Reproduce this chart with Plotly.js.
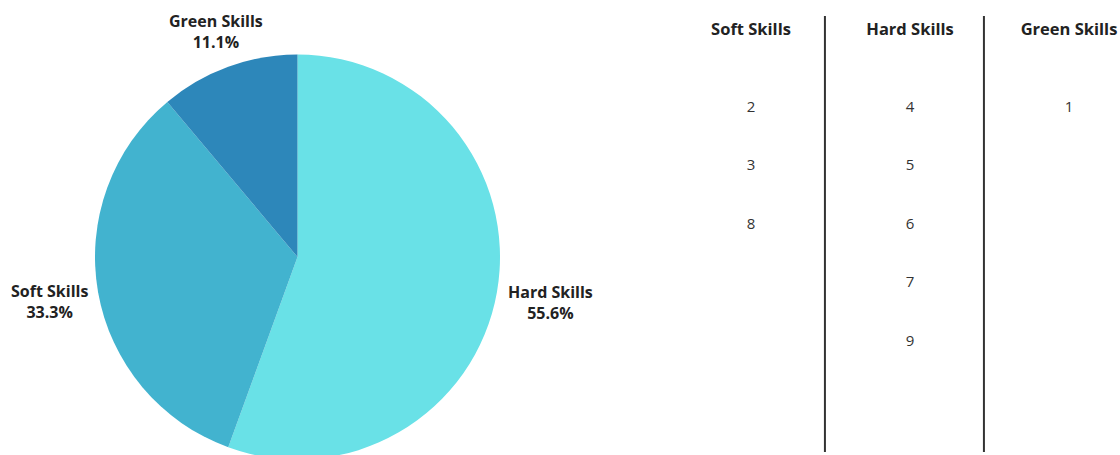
<!DOCTYPE html>
<html>
<head>
<meta charset="utf-8">
<script src="https://cdn.plot.ly/plotly-3.0.1.min.js"></script>
<style>
  html, body { margin: 0; padding: 0; background: #fff; overflow: hidden; }
  #chart { width: 1120px; height: 470px; }
</style>
</head>
<body>
<div id="chart"></div>
<script>
// Pie data
const pieLabels = ['Hard Skills', 'Soft Skills', 'Green Skills'];
const pieValues = [5, 3, 1];
const pieColors = ['#69E1E7', '#42B3CF', '#2D87BA'];

// Table data
const columnNames = ['Soft Skills', 'Hard Skills', 'Green Skills'];
const softItems = ['2', '3', '8'];
const hardItems = ['4', '5', '6', '7', '9'];
const greenItems = ['1'];

const W = 1120, H = 470;
const px = (p) => p / W;
const py = (p) => 1 - p / H;

const labelFont = { family: 'Open Sans, sans-serif', size: 16, color: '#222', weight: 700 };
const cellFont = { family: 'Open Sans, sans-serif', size: 15, color: '#333' };

const pie = {
  type: 'pie',
  labels: pieLabels,
  values: pieValues,
  sort: false,
  direction: 'clockwise',
  rotation: 0,
  marker: { colors: pieColors, line: { width: 0 } },
  textinfo: 'none',
  showlegend: false,
  hoverinfo: 'label+percent',
  domain: { x: [px(95), px(500)], y: [py(459.5), py(54.5)] }
};

// outside label placement (layout positions, in pixels) for each slice
const labelPos = [[550, 302], [49, 301], [216, 32]];
const total = pieValues.reduce((a, b) => a + b, 0);
const labelAnnotations = pieLabels.map((lab, i) => ({
  xref: 'paper', yref: 'paper',
  x: px(labelPos[i][0]), y: py(labelPos[i][1]),
  xanchor: 'center', yanchor: 'middle', align: 'center',
  showarrow: false,
  text: lab + '<br>' + (pieValues[i] / total * 100).toFixed(1) + '%',
  font: labelFont
}));

function colTrace(items, colIndex) {
  return {
    type: 'scatter',
    mode: 'text',
    x: items.map(() => colIndex),
    y: items.map((_, i) => i + 1),
    text: items,
    textposition: 'middle center',
    textfont: cellFont,
    xaxis: 'x', yaxis: 'y',
    showlegend: false,
    hoverinfo: 'skip',
    cliponaxis: false
  };
}

// pixel mapping for the table axes
const colX0 = 751, colStep = 159;
const rowY1 = 108, rowStep = 58.5;
const xDomPx = [616, 1120];
const yDomPx = [39, 455];

const layout = {
  width: W, height: H,
  margin: { l: 0, r: 0, t: 0, b: 0 },
  paper_bgcolor: '#fff', plot_bgcolor: '#fff',
  font: { family: 'Open Sans, sans-serif', color: '#222' },
  xaxis: {
    domain: [px(xDomPx[0]), px(xDomPx[1])],
    range: [(xDomPx[0] - colX0) / colStep, (xDomPx[1] - colX0) / colStep],
    side: 'top',
    tickvals: [0, 1, 2],
    ticktext: columnNames,
    tickfont: { family: 'Open Sans, sans-serif', size: 16.5, color: '#222', weight: 700 },
    showgrid: false, zeroline: false, showline: false, ticks: '',
    fixedrange: true
  },
  yaxis: {
    domain: [py(yDomPx[1]), py(yDomPx[0])],
    range: [1 + (yDomPx[1] - rowY1) / rowStep, 1 + (yDomPx[0] - rowY1) / rowStep],
    showgrid: false, zeroline: false, showline: false, showticklabels: false, ticks: '',
    fixedrange: true
  },
  annotations: labelAnnotations,
  shapes: [0.465, 1.465].map(v => ({
    type: 'line', xref: 'x', yref: 'paper',
    x0: v, x1: v, y0: py(452), y1: py(16),
    line: { color: '#333', width: 2 }
  }))
};

Plotly.newPlot('chart', [pie, colTrace(softItems, 0), colTrace(hardItems, 1), colTrace(greenItems, 2)], layout, { displayModeBar: false, staticPlot: true });
</script>
</body>
</html>
